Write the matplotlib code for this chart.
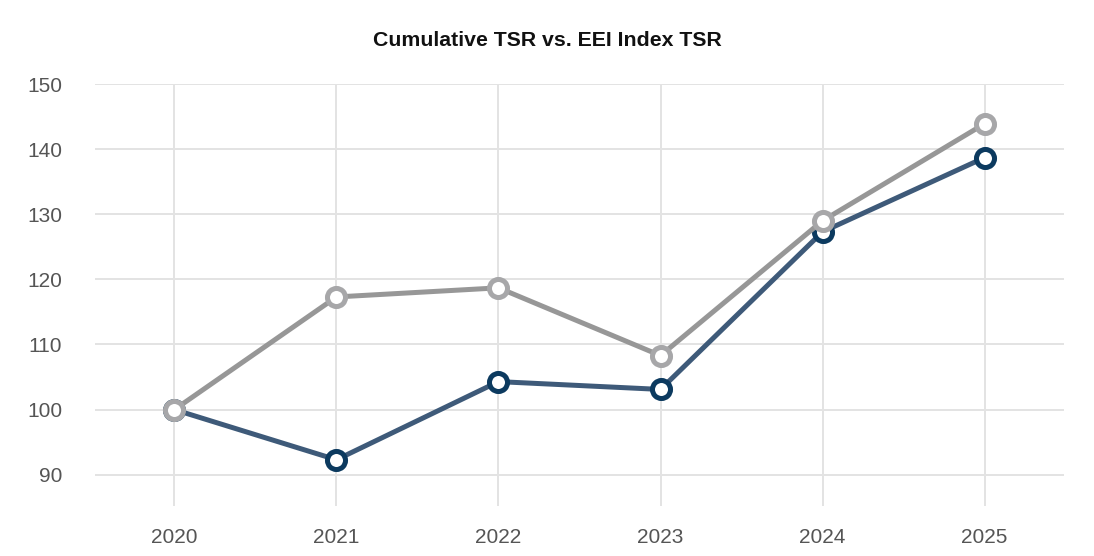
import matplotlib
matplotlib.use('Agg')
import matplotlib.pyplot as plt

plt.rcParams['font.family'] = ['Liberation Sans', 'DejaVu Sans']

years = [2020, 2021, 2022, 2023, 2024, 2025]
company_tsr = [100.0, 92.3, 104.3, 103.1, 127.3, 138.7]
eei_tsr = [100.0, 117.3, 118.7, 108.3, 129.0, 143.9]
y_ticks = [90, 100, 110, 120, 130, 140, 150]

fig = plt.figure(figsize=(10.94, 5.56), dpi=100)
ax = fig.add_axes([95 / 1094, 1 - 506 / 556, (1064 - 95) / 1094, (506 - 84) / 556])

# company line: lighter stroke, darker ring markers
ax.plot(years, company_tsr, color='#3e5a79', linewidth=3.6, zorder=3,
        solid_capstyle='round')
ax.plot(years, company_tsr, linestyle='none', marker='o', markersize=13,
        markerfacecolor='white', markeredgecolor='#0c3a5f', markeredgewidth=3.6,
        zorder=4)

# EEI index line on top
ax.plot(years, eei_tsr, color='#979797', linewidth=3.6, zorder=5,
        solid_capstyle='round')
ax.plot(years, eei_tsr, linestyle='none', marker='o', markersize=13,
        markerfacecolor='white', markeredgecolor='#a7a7a9', markeredgewidth=3.6,
        zorder=6)

ax.set_xlim(2019.51, 2025.49)
ax.set_ylim(85.2, 150)
ax.set_xticks(years)
ax.set_yticks(y_ticks)
ax.grid(True, color='#e3e3e3', linewidth=1.4)
ax.set_axisbelow(True)
for s in ax.spines.values():
    s.set_visible(False)
ax.tick_params(length=0, labelsize=15, labelcolor='#555555')
ax.tick_params(axis='x', pad=16)
ax.tick_params(axis='y', pad=23.5)

fig.text(0.5, 1 - 41 / 556, 'Cumulative TSR vs. EEI Index TSR', ha='center',
         va='center', fontsize=15.3, fontweight='bold', color='#111111')

fig.savefig('out.png', dpi=100)
